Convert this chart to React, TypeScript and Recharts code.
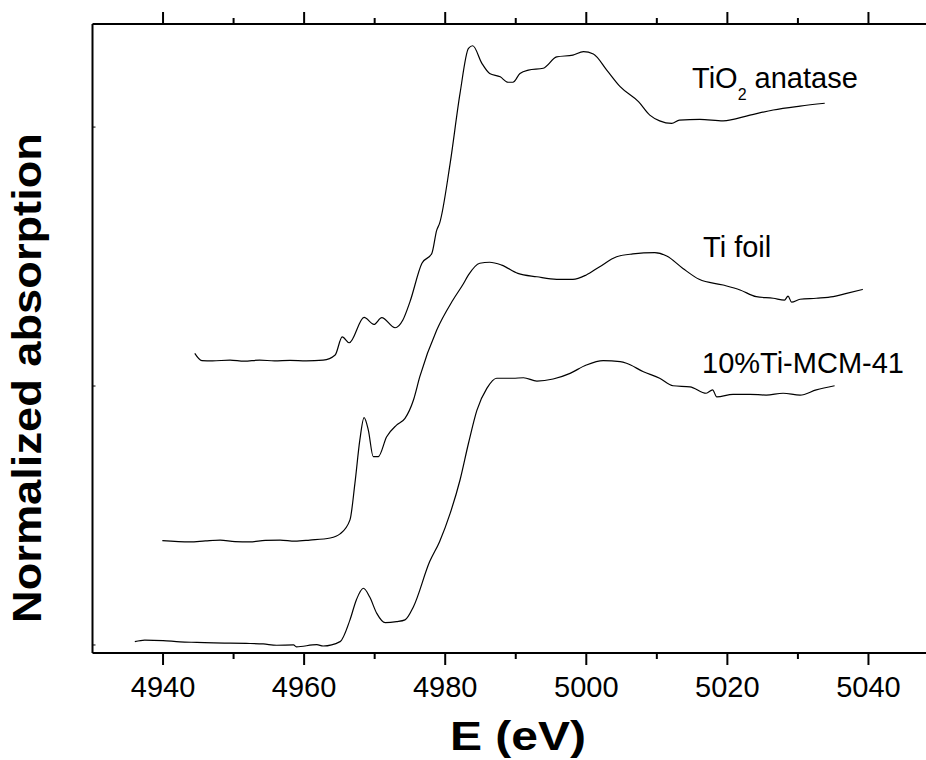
import { LineChart, Line, XAxis, YAxis } from 'recharts'

// x ticks (eV)
const majorTicks = [4940, 4960, 4980, 5000, 5020, 5040]
const minorTicks = [4950, 4970, 4990, 5010, 5030]
const allTicks = [...majorTicks, ...minorTicks].sort((a, b) => a - b)
const yTicks = [0, 1, 2]

// [energy (eV), normalized absorption + offset]
const anatase: [number, number][] = [
  [4944.5, 1.126], [4945.5, 1.098], [4947.0, 1.097], [4949.5, 1.1], [4951.5, 1.096], [4953.7, 1.1], [4955.8, 1.097], [4958.0, 1.099],
  [4960.3, 1.097], [4962.7, 1.1], [4964.4, 1.12], [4965.4, 1.19], [4966.4, 1.167], [4968.5, 1.265],
  [4969.9, 1.238], [4971.0, 1.264], [4972.9, 1.225], [4974.0, 1.255], [4975.0, 1.325],
  [4976.7, 1.474], [4978.1, 1.512], [4978.8, 1.602], [4979.2, 1.628], [4980.7, 1.86],
  [4982.1, 2.13], [4983.3, 2.304], [4983.9, 2.314], [4985.2, 2.246], [4986.3, 2.207],
  [4987.8, 2.194], [4988.9, 2.173], [4989.6, 2.173], [4990.6, 2.207], [4991.8, 2.22],
  [4993.9, 2.227], [4995.8, 2.271], [4998.1, 2.278], [4999.6, 2.291], [5001.0, 2.282],
  [5002.9, 2.22], [5004.8, 2.156], [5007.4, 2.098], [5009.0, 2.046], [5010.4, 2.024],
  [5012.1, 2.014], [5013.2, 2.027], [5016.1, 2.03], [5019.4, 2.024], [5023.2, 2.046],
  [5026.5, 2.066], [5030.3, 2.081], [5033.8, 2.092],
]

const tiFoil: [number, number][] = [
  [4939.9, 0.403], [4943.8, 0.398], [4946.0, 0.402], [4948.1, 0.405], [4950.2, 0.399], [4952.3, 0.398], [4954.5, 0.404], [4956.6, 0.405],
  [4958.7, 0.401], [4960.8, 0.405], [4963.7, 0.413], [4965.1, 0.429], [4966.5, 0.483], [4967.2, 0.624],
  [4967.9, 0.792], [4968.5, 0.878], [4969.1, 0.83], [4969.8, 0.727], [4970.5, 0.727],
  [4971.7, 0.804], [4973.1, 0.849], [4974.3, 0.875], [4975.5, 0.946], [4976.4, 1.036],
  [4978.8, 1.216], [4981.1, 1.332], [4982.6, 1.396], [4983.3, 1.429], [4984.9, 1.474],
  [4986.3, 1.478], [4988.0, 1.467], [4990.3, 1.435], [4993.0, 1.422], [4995.8, 1.412],
  [4998.1, 1.412], [5000.0, 1.429], [5001.9, 1.461], [5004.3, 1.499], [5006.6, 1.51],
  [5009.7, 1.515], [5011.4, 1.502], [5013.7, 1.454], [5016.0, 1.412], [5019.4, 1.39],
  [5021.8, 1.371], [5024.1, 1.345], [5026.5, 1.339], [5028.1, 1.332], [5028.6, 1.347],
  [5029.1, 1.324], [5030.3, 1.335], [5032.6, 1.339], [5035.0, 1.345], [5036.9, 1.358],
  [5039.2, 1.373],
]

const tiMcm41: [number, number][] = [
  [4936.0, 0.013], [4937.4, 0.019], [4940.0, 0.017], [4942.4, 0.012], [4944.8, 0.01], [4947.2, 0.008], [4949.5, 0.007],
  [4951.8, 0.006], [4954.2, 0.004], [4956.1, -0.001], [4958.5, 0], [4958.9, -0.007], [4961.8, 0.001],
  [4962.7, -0.004], [4965.1, 0.013], [4966.5, 0.097], [4967.4, 0.174], [4968.4, 0.219],
  [4969.3, 0.185], [4970.3, 0.122], [4971.5, 0.086], [4973.1, 0.09], [4974.3, 0.097],
  [4975.5, 0.148], [4977.8, 0.322], [4979.2, 0.399], [4980.7, 0.508], [4982.1, 0.637],
  [4983.3, 0.779], [4984.5, 0.907], [4985.9, 0.991], [4987.3, 1.03], [4989.6, 1.03],
  [4991.1, 1.032], [4993.0, 1.019], [4995.3, 1.027], [4997.7, 1.049], [5000.0, 1.081],
  [5002.4, 1.098], [5004.8, 1.094], [5005.7, 1.088], [5008.1, 1.055], [5010.4, 1.03],
  [5012.3, 1.001], [5014.7, 0.997], [5017.0, 0.972], [5017.9, 0.985], [5018.5, 0.958],
  [5020.8, 0.968], [5023.2, 0.968], [5025.5, 0.965], [5027.9, 0.972], [5030.3, 0.965],
  [5032.6, 0.985], [5035.2, 1.001],
]

const series = [anatase, tiFoil, tiMcm41]
const toPoints = (s: [number, number][]) => s.map(([e, v]) => ({ e, v }))

const FONT = '"Liberation Sans", Arial, Helvetica, sans-serif'

function BottomTick({ x, y, payload }: any) {
  const major = majorTicks.includes(payload.value)
  return (
    <g>
      <line x1={x} x2={x} y1={y} y2={y + (major ? 12 : 6)} stroke="#000" strokeWidth={2} />
      {major && (
        <text x={x} y={y + 44} textAnchor="middle" fontSize={29} fontFamily={FONT} fill="#000">
          {payload.value}
        </text>
      )}
    </g>
  )
}

function TopTick({ x, y, payload }: any) {
  const major = majorTicks.includes(payload.value)
  return <line x1={x} x2={x} y1={y} y2={y - (major ? 12 : 6)} stroke="#000" strokeWidth={2} />
}

function LeftTick({ x, y }: any) {
  return <line x1={x} x2={x + 3} y1={y} y2={y} stroke="#000" strokeWidth={1} />
}

export default function App() {
  return (
    <div style={{ position: 'absolute', left: 0, top: 0, width: 926, height: 760, overflow: 'hidden', background: '#fff' }}>
      <LineChart width={950} height={760} margin={{ top: 0, right: 11, bottom: 0, left: 0 }}>
        <XAxis
          xAxisId="bottom"
          dataKey="e"
          type="number"
          domain={[4930, 5050]}
          allowDataOverflow
          ticks={allTicks}
          interval={0}
          tickSize={0}
          tickMargin={0}
          tickLine={false}
          tick={<BottomTick />}
          height={107}
          axisLine={{ stroke: '#000', strokeWidth: 2 }}
        />
        <XAxis
          xAxisId="top"
          orientation="top"
          dataKey="e"
          type="number"
          domain={[4930, 5050]}
          allowDataOverflow
          ticks={allTicks}
          interval={0}
          tickSize={0}
          tickMargin={0}
          tickLine={false}
          tick={<TopTick />}
          height={24}
          axisLine={{ stroke: '#000', strokeWidth: 2 }}
        />
        <YAxis
          yAxisId="left"
          type="number"
          domain={[-0.031, 2.398]}
          allowDataOverflow
          ticks={yTicks}
          interval={0}
          tickSize={0}
          tickMargin={0}
          tickLine={false}
          tick={<LeftTick />}
          width={92.5}
          axisLine={{ stroke: '#000', strokeWidth: 2 }}
        />
        {series.map((s, i) => (
          <Line
            key={i}
            xAxisId="bottom"
            yAxisId="left"
            data={toPoints(s)}
            dataKey="v"
            type="monotone"
            stroke="#000"
            strokeWidth={1.2}
            dot={false}
            activeDot={false}
            isAnimationActive={false}
          />
        ))}
      </LineChart>
      <svg width={926} height={760} style={{ position: 'absolute', left: 0, top: 0, pointerEvents: 'none' }} fontFamily={FONT}>
        <text x={692} y={88} fontSize={29} fill="#000">
          TiO<tspan dy={12} fontSize={16}>2</tspan>
          <tspan dy={-12}> anatase</tspan>
        </text>
        <text x={703} y={257} fontSize={29} fill="#000">Ti foil</text>
        <text x={702} y={373} fontSize={29} fill="#000">10%Ti-MCM-41</text>
        <text
          x={518}
          y={750}
          fontSize={40}
          fontWeight="bold"
          textAnchor="middle"
          textLength={136}
          lengthAdjust="spacingAndGlyphs"
          fill="#000"
        >
          E (eV)
        </text>
        <text
          x={0}
          y={0}
          transform="translate(41, 378) rotate(-90)"
          fontSize={40}
          fontWeight="bold"
          textAnchor="middle"
          textLength={490}
          lengthAdjust="spacingAndGlyphs"
          fill="#000"
        >
          Normalized absorption
        </text>
      </svg>
    </div>
  )
}
